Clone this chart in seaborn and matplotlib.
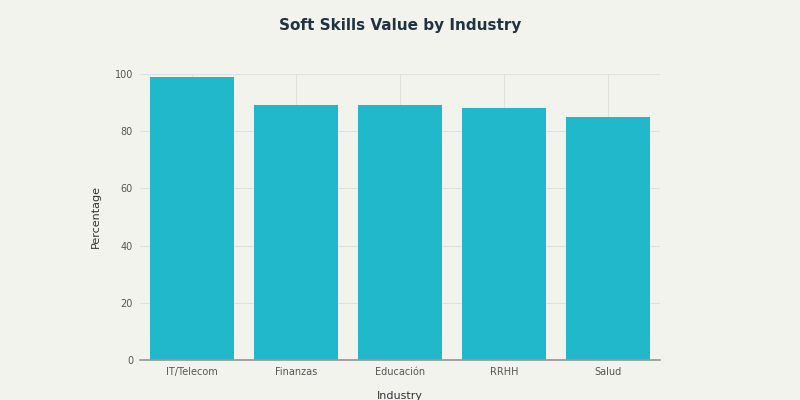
import matplotlib
matplotlib.use("Agg")
import matplotlib.pyplot as plt
import seaborn as sns
import pandas as pd

industries = ["IT/Telecom", "Finanzas", "Educación", "RRHH", "Salud"]
values = [99, 89, 89, 88, 85]

bg = "#f3f3ee"
sns.set_theme(style="whitegrid", rc={"font.family": "DejaVu Sans"})
fig = plt.figure(figsize=(8, 4), dpi=100, facecolor=bg)
ax = fig.add_axes([0.175, 0.1, 0.65, 0.715], facecolor=bg)

df = pd.DataFrame({"Industry": industries, "Percentage": values})
sns.barplot(data=df, x="Industry", y="Percentage", color="#21b8cc",
            saturation=1, width=0.8, linewidth=0, ax=ax, zorder=2)

ax.set_ylim(0, 100)
ax.set_yticks(range(0, 101, 20))
ax.grid(True, color="#e0e0dc", linewidth=0.8, zorder=0)
for s in ["top", "right", "left"]:
    ax.spines[s].set_visible(False)
ax.spines["bottom"].set_color("#999999")
ax.tick_params(axis="both", labelsize=7, colors="#555555", length=0, pad=5)
ax.set_xlabel("Industry", fontsize=8, color="#333333", labelpad=10)
ax.set_ylabel("Percentage", fontsize=8, color="#333333", labelpad=10)
fig.suptitle("Soft Skills Value by Industry", fontsize=11, fontweight="bold",
             color="#1f3340", y=0.955)

fig.savefig("out.png", dpi=100, facecolor=bg)
